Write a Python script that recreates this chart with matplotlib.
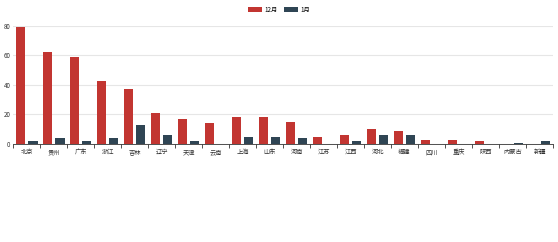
import numpy as np
import matplotlib.pyplot as plt

plt.rcParams['font.family'] = ['Noto Sans CJK SC', 'DejaVu Sans']

# 省份与数据
provinces = ["北京", "贵州", "广东", "浙江", "吉林", "辽宁", "天津", "云南", "上海", "山东",
             "河南", "江苏", "江西", "河北", "福建", "四川", "重庆", "陕西", "内蒙古", "新疆"]
dec_vals = [79, 62, 59, 43, 37, 21, 17, 14, 18, 18, 15, 5, 6, 10, 9, 3, 3, 2, 0, 0]
jan_vals = [2, 4, 2, 4, 13, 6, 2, 0, 5, 5, 4, 0, 2, 6, 6, 0, 0, 0, 1, 2]

red = "#c23531"
dark = "#2f4554"

fig = plt.figure(figsize=(5.58, 2.42), dpi=100)
ax = fig.add_axes([0.024, 0.405, 0.967, 0.488])

x = np.arange(len(provinces))
w = 0.34
ax.bar(x - 0.225, dec_vals, w, color=red, label="12月", zorder=3)
ax.bar(x + 0.225, jan_vals, w, color=dark, label="1月", zorder=3)

ax.set_xlim(-0.5, len(provinces) - 0.5)
ax.set_ylim(0, 80)
ax.set_yticks([0, 20, 40, 60, 80])
ax.yaxis.grid(True, color="#e6e6e6", linewidth=0.8, zorder=0)

ax.set_xticks(x)
ax.set_xticklabels(provinces, fontsize=4.5, color="#333333")
ax.set_xticks(np.arange(-0.5, len(provinces)), minor=True)
ax.tick_params(axis="x", which="major", length=0, pad=3)
ax.tick_params(axis="x", which="minor", length=3, color="#333333", width=0.6)
ax.tick_params(axis="y", length=0, labelsize=4.5, labelcolor="#333333", pad=2)

for s in ["top", "right", "left"]:
    ax.spines[s].set_visible(False)
ax.spines["bottom"].set_color("#333333")
ax.spines["bottom"].set_linewidth(0.6)

fig.legend(loc="upper center", bbox_to_anchor=(0.5, 1.0), ncol=2, frameon=False,
           fontsize=4.5, handlelength=2.2, handleheight=1.0, columnspacing=1.0,
           handletextpad=0.4)

fig.savefig("out.png", dpi=100)
